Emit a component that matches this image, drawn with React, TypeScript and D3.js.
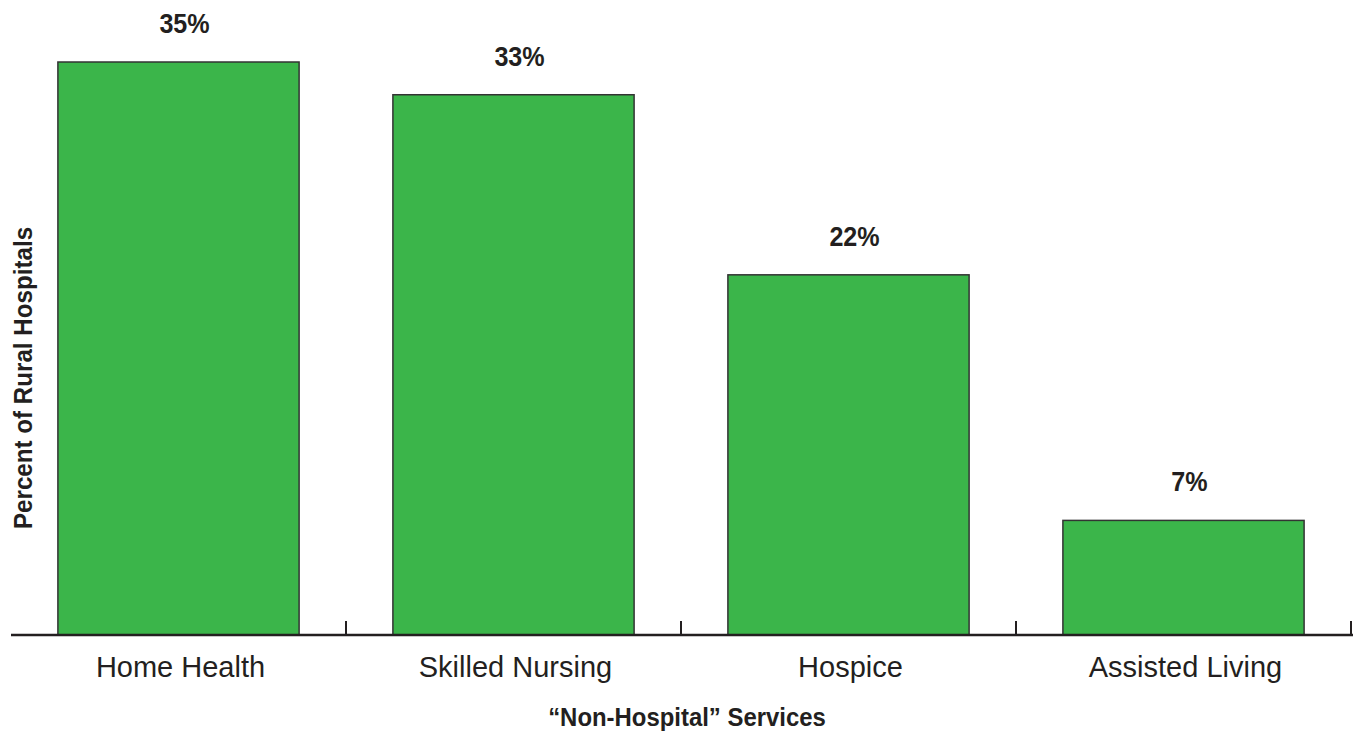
import React from "react";
import * as d3 from "d3";

const categories = ["Home Health", "Skilled Nursing", "Hospice", "Assisted Living"];
const values = [35, 33, 22, 7];
const valueLabels = ["35%", "33%", "22%", "7%"];

const W = 1353;
const H = 732;
const FONT = "'Liberation Sans', Arial, Helvetica, sans-serif";

export default function App() {
  const x = d3.scaleBand<string>().domain(categories).range([11, 1351]).paddingInner(0.28).paddingOuter(0.14);
  const y = d3.scaleLinear().domain([0, 35]).range([635, 62]);
  const step = x.step();
  const ticks = [1, 2, 3, 4].map((i) => 11 + i * step);
  return (
    <svg width={W} height={H} style={{ position: "absolute", left: 0, top: 0, background: "#fff" }}>
      {categories.map((c, i) => {
        const cx = (x(c) as number) + x.bandwidth() / 2;
        return (
          <g key={c}>
            <rect
              x={x(c)}
              y={y(values[i])}
              width={x.bandwidth()}
              height={y(0) - y(values[i])}
              fill="#3bb54a"
              stroke="#333"
              strokeWidth={1.5}
            />
            <text
              transform={`translate(${cx + 6},${y(values[i]) - 29}) scale(0.93,1)`}
              textAnchor="middle"
              fontFamily={FONT}
              fontWeight="bold"
              fontSize={27}
              fill="#231f20"
            >
              {valueLabels[i]}
            </text>
            <text x={cx + 2} y={677} textAnchor="middle" fontFamily={FONT} fontSize={29} fill="#231f20">
              {c}
            </text>
          </g>
        );
      })}
      <line x1={11} x2={1353} y1={635} y2={635} stroke="#231f20" strokeWidth={2.5} />
      {ticks.map((t) => (
        <line key={t} x1={t} x2={t} y1={621} y2={635} stroke="#231f20" strokeWidth={2} />
      ))}
      <text
        transform="translate(687,726) scale(0.92,1)"
        textAnchor="middle"
        fontFamily={FONT}
        fontWeight="bold"
        fontSize={26}
        fill="#231f20"
      >
        “Non-Hospital” Services
      </text>
      <text
        transform="translate(32,378) rotate(-90) scale(0.93,1)"
        textAnchor="middle"
        fontFamily={FONT}
        fontWeight="bold"
        fontSize={26}
        fill="#231f20"
      >
        Percent of Rural Hospitals
      </text>
    </svg>
  );
}
